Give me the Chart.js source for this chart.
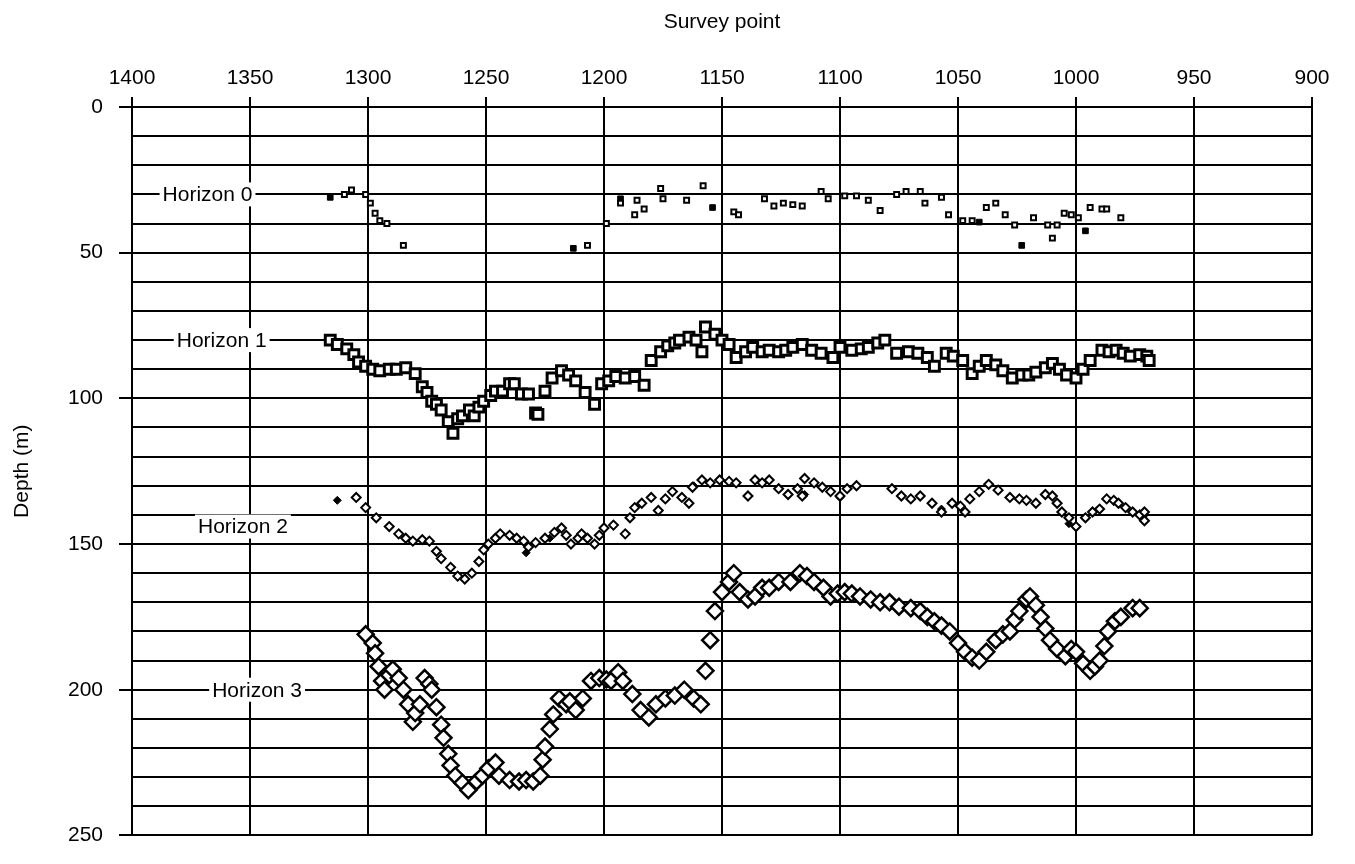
<!DOCTYPE html>
<html>
<head>
<meta charset="utf-8">
<script src="https://cdn.jsdelivr.net/npm/chart.js@4.4.0/dist/chart.umd.min.js"></script>
<style>
  html, body { margin: 0; background: #fff; }
</style>
</head>
<body>
<canvas id="depthChart" width="1355" height="864"></canvas>
<script>
// survey point, depth (m)
const horizon0 = [
  [1310,30],[1307,28.5],[1301,30],[1299,33],[1297,36.5],[1295,39],[1292,40],[1285,47.5],
  [1207,47.5],[1199,40],[1193,33],[1186,32],[1187,37],[1183,35],[1176,28],[1175,31.5],
  [1165,32],[1158,27],[1145,36],[1143,37],[1132,31.5],[1128,34],[1124,33],[1120,33.5],
  [1116,34],[1108,29],[1105,31.5],[1098,30.5],[1093,30.5],[1088,32],[1083,35.5],[1076,30],
  [1072,29],[1066,29],[1064,33],[1057,31],[1054,37],[1048,39],[1044,39],[1038,34.5],
  [1034,33],[1030,37],[1026,40.5],[1018,38],[1012,40.5],[1010,45],[1008,40.5],[1005,36.5],
  [1002,37],[999,38],[994,34.5],[989,35],[987,35],[981,38]
];
const horizon0Filled = [
  [1316,31],[1213,48.5],[1193,31.5],[1154,34.5],[1041,39.5],[1023,47.5],[996,42.5]
];
const horizon1 = [
  [1316,80],[1313,81.5],[1309,83],[1306,85],[1304,87.5],[1301,89],[1298,90],[1295,90.5],
  [1291,90],[1288,90],[1284,89.5],[1280,91.5],[1277,96],[1275,98],[1273,101],[1271,102],
  [1269,104],[1266,108],[1264,112],[1262,107],[1260,106],[1257,104],[1255,106],[1253,103],
  [1251,101],[1248,99],[1246,97.5],[1243,97.5],[1240,95],[1238,95],[1235,98.5],[1232,98.5],
  [1229,105],[1228,105.5],[1225,97.5],[1222,93],[1218,90.5],[1215,92],[1212,94],[1208,98],
  [1204,102],[1201,95],[1198,94],[1195,92.5],[1191,93],[1187,92.5],[1183,95.5],[1180,87],
  [1176,84],[1173,82],[1170,81],[1168,80],[1164,79],[1161,80],[1158.5,84],[1157,75.5],
  [1153,78],[1150,80],[1147,81.5],[1144,86],[1140,84],[1137,82.5],[1133,84],[1130,83.5],
  [1126,84],[1123,83.5],[1120,82.5],[1116,81.5],[1112,83.5],[1108,84.5],[1103,86],[1100,82.5],
  [1095,83.5],[1091,83],[1088,82.5],[1084,81],[1081,80],[1076,84.5],[1071,84],[1067,84.5],
  [1063,86],[1060,89],[1055,84.5],[1052,85.5],[1048,87],[1044,91.5],[1041,89],[1038,87],
  [1034,88.5],[1031,90.5],[1027,93],[1023,92],[1020,92],[1017,91],[1013,89.5],[1010,88],
  [1007,90],[1004,92],[1000,93],[997,90],[994,87],[989,83.5],[986,84],[983,83.5],
  [980,84.5],[977,85.5],[973,85],[970,85.5],[969,87]
];
const horizon2 = [
  [1305,134],[1301,137.5],[1296.5,141],[1291,144],[1287,146.5],[1284,148],[1281,149],[1277,148.5],
  [1274,149],[1271,152.5],[1269,155],[1265,158],[1262,161],[1259,162],[1256,160],[1253,156],
  [1251,152],[1249,150],[1246,148],[1244,146.5],[1240,147],[1237,148],[1234,149],[1232,151],
  [1229,149.5],[1225,148],[1221,146],[1218,144.5],[1216,147],[1214,150],[1211,148],[1209.5,146.5],
  [1207,148],[1204,150],[1202,147],[1200,144.5],[1196,143.5],[1191,146.5],[1189,141],[1187,137.5],
  [1184,136],[1180,134],[1177,138.5],[1174,134.5],[1171,132],[1167,134],[1164,136],[1162.5,130.5],
  [1158.5,128],[1155,129],[1151,128],[1147,128.5],[1144,129],[1139,133.5],[1136,128],[1133,129],
  [1130,128],[1126,131],[1122,133],[1118,131],[1116,133.5],[1115,127.5],[1111,129],[1107.5,130.5],
  [1104,132],[1100,133.5],[1097,131],[1093,130],[1078,131],[1074,133.5],[1070,134.5],[1066,133.5],
  [1061,136],[1057,139],[1052.5,136],[1049,137],[1047,139],[1045,134.5],[1041,132],[1037,129.5],
  [1033,131.5],[1028,134],[1024,134.5],[1021,135],[1017,136],[1013,133],[1010,133.5],[1008,136],
  [1006,139],[1003,141],[1000,144],[996,141],[993,139],[990,138],[987,134.5],[984,135],
  [982,136],[979,137.5],[976,139],[973,140],[971,139],[971,142]
];
const horizon2Filled = [
  [1313,135],[1233,153],[1223,148],[1214,150],[1204,150],[1187,137.5],[1171,132],[1162,130],
  [1115,133],[1100,134],[1070,134.5],[1057,138],[1006,139],[1003,143],[971,140]
];
const horizon3 = [
  [1301,181],[1298,184],[1297,187.5],[1295.5,192],[1294,197],[1293,200],[1291,195],[1289.5,193],
  [1287,196],[1285,200],[1283,205],[1281,211],[1280,208],[1278,205],[1276,196],[1274,198],
  [1273,200],[1271,206],[1269,212],[1268,216.5],[1266,222],[1265,226],[1263,229.5],[1260,232],
  [1257.5,234.5],[1254,231.5],[1251.5,229.5],[1249,227],[1246,225],[1244.5,229.5],[1240,231],[1236,231.5],
  [1233,231],[1230,231.5],[1227,229.5],[1226,224],[1225,219.5],[1223,213.5],[1221.5,208.5],[1219,203],
  [1216,205],[1214.5,204],[1212,207],[1209,203],[1205.5,197],[1202,196],[1199,196.5],[1197,197],
  [1194,194],[1192,197],[1188,201.5],[1184.5,207],[1181,209.5],[1178,205],[1174,203],[1170,202],
  [1166,200],[1162,203],[1159,205],[1157,193.5],[1155,183],[1153,173],[1150,166.5],[1147,163],
  [1145,160],[1142.5,166.5],[1139,169],[1136,168],[1133,165],[1130,165],[1126,163],[1121,163],
  [1117,160],[1114,161],[1111,163],[1107,165],[1104,168],[1101,167],[1098,166.5],[1095,167],
  [1091.5,168],[1087,169],[1083,170],[1079,170],[1075,171.5],[1070,172],[1066,173],[1063,175],
  [1060,176.5],[1057,178],[1053.5,180],[1050,184],[1047,187],[1044,189],[1041,190],[1038,187],
  [1034,183],[1031,181],[1028,180],[1026,176],[1024,173],[1021,169],[1019.5,168],[1017,171],
  [1015,175],[1013,179],[1011,183],[1008,186],[1004.5,188.5],[1002,186],[1000,187],[997,191],
  [994,193.5],[992,192],[990,190],[988,185],[986.5,180],[983.5,176.5],[981,175],[976,172],[973,172]
];

// horizon name tags, placed on the plot in data units
const tagText = ['Horizon 0', 'Horizon 1', 'Horizon 2', 'Horizon 3'];
const tagSurvey = [1368, 1362, 1353, 1347];
const tagDepth = [30, 80, 144, 200];

const FONT = '"Liberation Sans", Arial, Helvetica, sans-serif';
Chart.defaults.font.family = FONT;
Chart.defaults.color = '#000';

const toXY = arr => arr.map(p => ({ x: p[0], y: p[1] }));

const tagPlugin = {
  id: 'horizonTags',
  beforeDatasetsDraw(chart) {
    const { ctx, scales: { x, y } } = chart;
    ctx.save();
    ctx.font = '21px ' + FONT;
    ctx.textAlign = 'center';
    ctx.textBaseline = 'middle';
    tagText.forEach((t, i) => {
      const px = x.getPixelForValue(tagSurvey[i]);
      const py = y.getPixelForValue(tagDepth[i]);
      const w = ctx.measureText(t).width + 6;
      ctx.fillStyle = '#fff';
      ctx.fillRect(px - w / 2, py - 12, w, 24);
      ctx.fillStyle = '#000';
      ctx.fillText(t, px, py + 1);
    });
    ctx.restore();
  }
};

const pts = (data, style, r, bw, fill) => ({
  data: toXY(data),
  showLine: false,
  pointStyle: style,
  pointRadius: r,
  pointHoverRadius: r,
  pointBorderWidth: bw,
  pointBorderColor: '#000',
  pointBackgroundColor: fill,
  borderColor: '#000',
  backgroundColor: fill
});

new Chart(document.getElementById('depthChart'), {
  type: 'scatter',
  data: {
    datasets: [
      pts(horizon0, 'rect', 3.5, 2, '#fff'),
      pts(horizon0Filled, 'rect', 4, 1, '#000'),
      pts(horizon1, 'rect', 7, 3, '#fff'),
      pts(horizon2, 'rectRot', 4.5, 2, '#fff'),
      pts(horizon2Filled, 'rectRot', 4, 1, '#000'),
      pts(horizon3, 'rectRot', 8, 2.5, '#fff')
    ]
  },
  options: {
    responsive: false,
    animation: false,
    layout: { padding: { top: 0, right: 43, bottom: 18, left: 0 } },
    plugins: { legend: { display: false }, tooltip: { enabled: false } },
    scales: {
      x: {
        type: 'linear',
        position: 'top',
        min: 900, max: 1400,
        reverse: true,
        ticks: { stepSize: 50, padding: 6, maxRotation: 0, font: { size: 21 }, callback: v => String(v) },
        grid: { color: '#000', lineWidth: 2, tickLength: 10, tickColor: '#000' },
        border: { color: '#000', width: 2 },
        title: { display: true, text: 'Survey point', font: { size: 21 }, padding: { top: 10, bottom: 0 } },
        afterFit(s) { s.height = 107; }
      },
      y: {
        min: 0, max: 250,
        reverse: true,
        ticks: {
          stepSize: 10, autoSkip: false, padding: 16, font: { size: 21 },
          callback: v => (v % 50 === 0 ? String(v) : '')
        },
        grid: {
          color: '#000', lineWidth: 2, tickLength: 13,
          tickColor: c => (c.tick && c.tick.value % 50 === 0 ? '#000' : 'rgba(0,0,0,0)')
        },
        border: { color: '#000', width: 2 },
        title: { display: true, text: 'Depth (m)', font: { size: 21 }, padding: { top: 10, bottom: 0 } },
        afterFit(s) { s.width = 132; }
      }
    }
  },
  plugins: [tagPlugin]
});
</script>
</body>
</html>
